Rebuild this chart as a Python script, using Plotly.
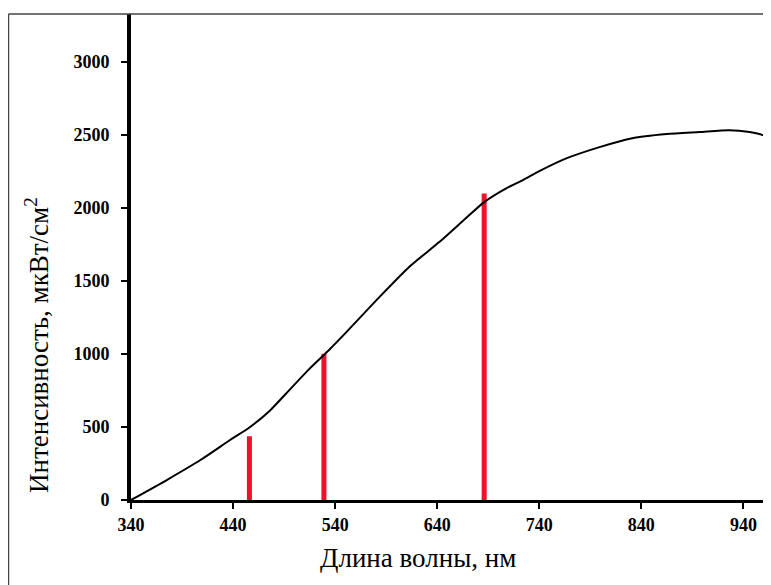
import plotly.graph_objects as go

# Spectrum curve (wavelength, nm -> intensity, µW/cm^2)
wavelength = [340, 375, 408, 437, 456, 476, 496, 515, 535, 551, 584, 613, 642, 668,
              686, 708, 724, 740, 767, 799, 831, 865, 897, 926, 946, 959, 967]
intensity = [0, 137, 274, 411, 497, 612, 760, 900, 1035, 1150, 1395, 1600, 1767, 1930,
             2041, 2137, 2192, 2253, 2342, 2418, 2479, 2507, 2521, 2534, 2521, 2500, 2470]

# Red lines (laser / LED lines)
line_wavelengths = [456, 529, 686]
line_intensities = [437, 1002, 2100]

x_ticks = [340, 440, 540, 640, 740, 840, 940]
y_ticks = [0, 500, 1000, 1500, 2000, 2500, 3000]

# The page has an 8px body margin; figure coordinates are page coordinates - 8
OFF = 8
W, H = 771, 585
ML, MR, MT, MB = 131 - OFF, 8, 14 - OFF, 585 - (500 - OFF)
PW = W - ML - MR
PH = H - MT - MB


def px(xp):
    return (xp - OFF - ML) / PW


def py(yp):
    return (MT + PH - (yp - OFF)) / PH


fig = go.Figure()

for wl, it in zip(line_wavelengths, line_intensities):
    fig.add_trace(go.Scatter(x=[wl, wl], y=[0, it], mode="lines",
                             line=dict(color="#f0102a", width=5),
                             showlegend=False, hoverinfo="skip"))

fig.add_trace(go.Scatter(x=wavelength, y=intensity, mode="lines",
                         line=dict(color="black", width=2, shape="spline", smoothing=0.6),
                         showlegend=False))

serif = "Liberation Serif, Times New Roman, serif"

fig.update_layout(
    width=W, height=H,
    margin=dict(l=ML, r=MR, t=MT, b=MB, autoexpand=False),
    paper_bgcolor="white", plot_bgcolor="white",
    font=dict(family=serif, color="black"),
    xaxis=dict(range=[340, 967], tickvals=x_ticks, ticktext=[str(v) for v in x_ticks],
               showgrid=False, zeroline=False, showline=True, linecolor="black",
               linewidth=3, ticks="outside", ticklen=6, tickwidth=2, tickcolor="black",
               automargin=False,
               tickfont=dict(family=serif, size=18, weight="bold", color="black")),
    yaxis=dict(range=[0, 3330], tickvals=y_ticks, ticktext=[str(v) for v in y_ticks],
               showgrid=False, zeroline=False, showline=True, linecolor="black",
               linewidth=4, ticks="outside", ticklen=6, tickwidth=2, tickcolor="black",
               ticklabelstandoff=8, automargin=False,
               tickfont=dict(family=serif, size=18, weight="bold", color="black")),
    shapes=[
        dict(type="line", xref="paper", yref="paper",
             x0=px(8.5), x1=1.05, y0=py(14), y1=py(14),
             line=dict(color="#444444", width=1.5)),
        dict(type="line", xref="paper", yref="paper",
             x0=px(8.5), x1=px(8.5), y0=py(14), y1=py(620),
             line=dict(color="#444444", width=1.5)),
    ],
    annotations=[
        dict(text="Длина волны, нм", xref="paper", yref="paper",
             x=px(418), y=py(558), xanchor="center", yanchor="middle",
             showarrow=False, font=dict(family=serif, size=27, color="black")),
        dict(text="Интенсивность, мкВт/см<sup>2</sup>", xref="paper", yref="paper",
             x=px(37), y=py(345), xanchor="center", yanchor="middle",
             textangle=-90, showarrow=False, font=dict(family=serif, size=27, color="black")),
    ],
)

fig.write_html("out.html")
